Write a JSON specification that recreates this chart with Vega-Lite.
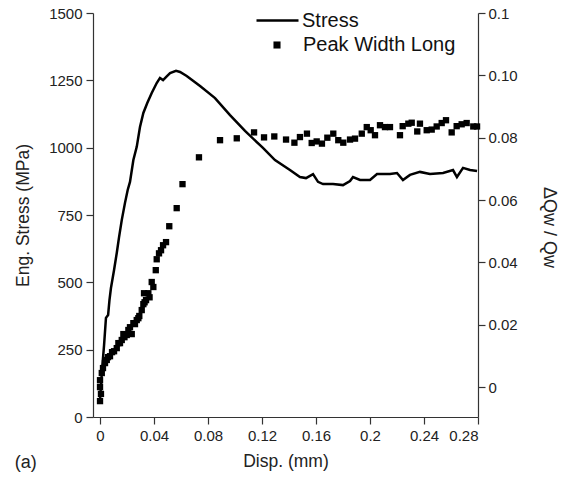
{
  "$schema": "https://vega.github.io/schema/vega-lite/v6.json",
  "width": 385,
  "height": 404,
  "autosize": {"type": "none"},
  "padding": {"left": 93, "top": 13, "right": 96, "bottom": 70},
  "background": "white",
  "title": {"text": "(a)", "orient": "bottom", "anchor": "start", "frame": "bounds", "offset": -16, "font": "Liberation Sans", "fontSize": 18, "fontWeight": "normal", "color": "#222"},
  "config": {
    "view": {"stroke": null},
    "font": "Liberation Sans",
    "axis": {"domainColor": "#333", "tickColor": "#333", "labelColor": "#222", "titleColor": "#222", "labelFont": "Liberation Sans", "titleFont": "Liberation Sans", "labelFontSize": 15, "titleFontSize": 17.5, "titleFontWeight": "normal", "grid": false, "tickSize": 7, "domainWidth": 1.2, "tickWidth": 1.2}
  },
  "datasets": {
    "stress": [
      {"disp": 0, "stress": 63, "curve": "Stress"},
      {"disp": 0.0015, "stress": 175, "curve": "Stress"},
      {"disp": 0.003, "stress": 267, "curve": "Stress"},
      {"disp": 0.0044, "stress": 368, "curve": "Stress"},
      {"disp": 0.006, "stress": 379, "curve": "Stress"},
      {"disp": 0.007, "stress": 434, "curve": "Stress"},
      {"disp": 0.0081, "stress": 479, "curve": "Stress"},
      {"disp": 0.0104, "stress": 546, "curve": "Stress"},
      {"disp": 0.0124, "stress": 609, "curve": "Stress"},
      {"disp": 0.0141, "stress": 668, "curve": "Stress"},
      {"disp": 0.0161, "stress": 731, "curve": "Stress"},
      {"disp": 0.0185, "stress": 795, "curve": "Stress"},
      {"disp": 0.0205, "stress": 843, "curve": "Stress"},
      {"disp": 0.0222, "stress": 873, "curve": "Stress"},
      {"disp": 0.0247, "stress": 954, "curve": "Stress"},
      {"disp": 0.0272, "stress": 1003, "curve": "Stress"},
      {"disp": 0.0296, "stress": 1077, "curve": "Stress"},
      {"disp": 0.0321, "stress": 1129, "curve": "Stress"},
      {"disp": 0.035, "stress": 1166, "curve": "Stress"},
      {"disp": 0.0383, "stress": 1203, "curve": "Stress"},
      {"disp": 0.042, "stress": 1240, "curve": "Stress"},
      {"disp": 0.0444, "stress": 1259, "curve": "Stress"},
      {"disp": 0.0467, "stress": 1251, "curve": "Stress"},
      {"disp": 0.0496, "stress": 1266, "curve": "Stress"},
      {"disp": 0.0519, "stress": 1277, "curve": "Stress"},
      {"disp": 0.0563, "stress": 1285, "curve": "Stress"},
      {"disp": 0.0593, "stress": 1281, "curve": "Stress"},
      {"disp": 0.0642, "stress": 1266, "curve": "Stress"},
      {"disp": 0.0741, "stress": 1229, "curve": "Stress"},
      {"disp": 0.0852, "stress": 1184, "curve": "Stress"},
      {"disp": 0.0963, "stress": 1121, "curve": "Stress"},
      {"disp": 0.1074, "stress": 1062, "curve": "Stress"},
      {"disp": 0.1207, "stress": 999, "curve": "Stress"},
      {"disp": 0.1296, "stress": 954, "curve": "Stress"},
      {"disp": 0.1407, "stress": 917, "curve": "Stress"},
      {"disp": 0.1481, "stress": 891, "curve": "Stress"},
      {"disp": 0.1526, "stress": 887, "curve": "Stress"},
      {"disp": 0.1578, "stress": 902, "curve": "Stress"},
      {"disp": 0.1615, "stress": 873, "curve": "Stress"},
      {"disp": 0.1652, "stress": 865, "curve": "Stress"},
      {"disp": 0.1726, "stress": 865, "curve": "Stress"},
      {"disp": 0.18, "stress": 861, "curve": "Stress"},
      {"disp": 0.1852, "stress": 876, "curve": "Stress"},
      {"disp": 0.1874, "stress": 891, "curve": "Stress"},
      {"disp": 0.1926, "stress": 880, "curve": "Stress"},
      {"disp": 0.2, "stress": 880, "curve": "Stress"},
      {"disp": 0.2052, "stress": 902, "curve": "Stress"},
      {"disp": 0.2148, "stress": 902, "curve": "Stress"},
      {"disp": 0.22, "stress": 906, "curve": "Stress"},
      {"disp": 0.2244, "stress": 880, "curve": "Stress"},
      {"disp": 0.2296, "stress": 899, "curve": "Stress"},
      {"disp": 0.237, "stress": 910, "curve": "Stress"},
      {"disp": 0.2444, "stress": 902, "curve": "Stress"},
      {"disp": 0.2541, "stress": 906, "curve": "Stress"},
      {"disp": 0.2615, "stress": 917, "curve": "Stress"},
      {"disp": 0.2644, "stress": 891, "curve": "Stress"},
      {"disp": 0.2689, "stress": 925, "curve": "Stress"},
      {"disp": 0.2741, "stress": 917, "curve": "Stress"},
      {"disp": 0.2793, "stress": 913, "curve": "Stress"}
    ],
    "width": [
      {"disp": 0, "width": -0.0045, "measure": "Peak Width Long"},
      {"disp": 0.0007, "width": -0.0022, "measure": "Peak Width Long"},
      {"disp": 0, "width": 0, "measure": "Peak Width Long"},
      {"disp": 0, "width": 0.0022, "measure": "Peak Width Long"},
      {"disp": 0.0013, "width": 0.0045, "measure": "Peak Width Long"},
      {"disp": 0.0022, "width": 0.0061, "measure": "Peak Width Long"},
      {"disp": 0.0037, "width": 0.0077, "measure": "Peak Width Long"},
      {"disp": 0.005, "width": 0.0087, "measure": "Peak Width Long"},
      {"disp": 0.0059, "width": 0.0096, "measure": "Peak Width Long"},
      {"disp": 0.0074, "width": 0.0099, "measure": "Peak Width Long"},
      {"disp": 0.0089, "width": 0.0112, "measure": "Peak Width Long"},
      {"disp": 0.0104, "width": 0.0115, "measure": "Peak Width Long"},
      {"disp": 0.0124, "width": 0.0125, "measure": "Peak Width Long"},
      {"disp": 0.0136, "width": 0.0141, "measure": "Peak Width Long"},
      {"disp": 0.0148, "width": 0.0141, "measure": "Peak Width Long"},
      {"disp": 0.0161, "width": 0.0151, "measure": "Peak Width Long"},
      {"disp": 0.0173, "width": 0.017, "measure": "Peak Width Long"},
      {"disp": 0.0181, "width": 0.016, "measure": "Peak Width Long"},
      {"disp": 0.0198, "width": 0.0167, "measure": "Peak Width Long"},
      {"disp": 0.021, "width": 0.0183, "measure": "Peak Width Long"},
      {"disp": 0.0222, "width": 0.0192, "measure": "Peak Width Long"},
      {"disp": 0.0235, "width": 0.017, "measure": "Peak Width Long"},
      {"disp": 0.0247, "width": 0.0205, "measure": "Peak Width Long"},
      {"disp": 0.0259, "width": 0.0202, "measure": "Peak Width Long"},
      {"disp": 0.0272, "width": 0.0215, "measure": "Peak Width Long"},
      {"disp": 0.0284, "width": 0.0221, "measure": "Peak Width Long"},
      {"disp": 0.0291, "width": 0.0228, "measure": "Peak Width Long"},
      {"disp": 0.0309, "width": 0.0247, "measure": "Peak Width Long"},
      {"disp": 0.0321, "width": 0.0266, "measure": "Peak Width Long"},
      {"disp": 0.033, "width": 0.0272, "measure": "Peak Width Long"},
      {"disp": 0.0326, "width": 0.0301, "measure": "Peak Width Long"},
      {"disp": 0.0341, "width": 0.0279, "measure": "Peak Width Long"},
      {"disp": 0.0358, "width": 0.0301, "measure": "Peak Width Long"},
      {"disp": 0.0367, "width": 0.0288, "measure": "Peak Width Long"},
      {"disp": 0.0383, "width": 0.0337, "measure": "Peak Width Long"},
      {"disp": 0.0395, "width": 0.0321, "measure": "Peak Width Long"},
      {"disp": 0.0413, "width": 0.0375, "measure": "Peak Width Long"},
      {"disp": 0.042, "width": 0.041, "measure": "Peak Width Long"},
      {"disp": 0.0437, "width": 0.0429, "measure": "Peak Width Long"},
      {"disp": 0.0452, "width": 0.0439, "measure": "Peak Width Long"},
      {"disp": 0.0467, "width": 0.0455, "measure": "Peak Width Long"},
      {"disp": 0.0489, "width": 0.0465, "measure": "Peak Width Long"},
      {"disp": 0.0513, "width": 0.0516, "measure": "Peak Width Long"},
      {"disp": 0.0568, "width": 0.0574, "measure": "Peak Width Long"},
      {"disp": 0.0611, "width": 0.0651, "measure": "Peak Width Long"},
      {"disp": 0.0733, "width": 0.0737, "measure": "Peak Width Long"},
      {"disp": 0.0889, "width": 0.0792, "measure": "Peak Width Long"},
      {"disp": 0.1013, "width": 0.0798, "measure": "Peak Width Long"},
      {"disp": 0.1141, "width": 0.0817, "measure": "Peak Width Long"},
      {"disp": 0.1215, "width": 0.0801, "measure": "Peak Width Long"},
      {"disp": 0.1291, "width": 0.0804, "measure": "Peak Width Long"},
      {"disp": 0.1378, "width": 0.0794, "measure": "Peak Width Long"},
      {"disp": 0.144, "width": 0.0784, "measure": "Peak Width Long"},
      {"disp": 0.1481, "width": 0.0802, "measure": "Peak Width Long"},
      {"disp": 0.1533, "width": 0.0813, "measure": "Peak Width Long"},
      {"disp": 0.1568, "width": 0.0783, "measure": "Peak Width Long"},
      {"disp": 0.1605, "width": 0.0788, "measure": "Peak Width Long"},
      {"disp": 0.1644, "width": 0.0781, "measure": "Peak Width Long"},
      {"disp": 0.1684, "width": 0.08, "measure": "Peak Width Long"},
      {"disp": 0.1728, "width": 0.0813, "measure": "Peak Width Long"},
      {"disp": 0.1765, "width": 0.0792, "measure": "Peak Width Long"},
      {"disp": 0.1802, "width": 0.0784, "measure": "Peak Width Long"},
      {"disp": 0.1852, "width": 0.0794, "measure": "Peak Width Long"},
      {"disp": 0.1889, "width": 0.0797, "measure": "Peak Width Long"},
      {"disp": 0.1939, "width": 0.0813, "measure": "Peak Width Long"},
      {"disp": 0.1976, "width": 0.0834, "measure": "Peak Width Long"},
      {"disp": 0.2005, "width": 0.0824, "measure": "Peak Width Long"},
      {"disp": 0.2037, "width": 0.0808, "measure": "Peak Width Long"},
      {"disp": 0.2074, "width": 0.084, "measure": "Peak Width Long"},
      {"disp": 0.2111, "width": 0.0834, "measure": "Peak Width Long"},
      {"disp": 0.2148, "width": 0.0834, "measure": "Peak Width Long"},
      {"disp": 0.2222, "width": 0.0808, "measure": "Peak Width Long"},
      {"disp": 0.2242, "width": 0.0837, "measure": "Peak Width Long"},
      {"disp": 0.2284, "width": 0.0845, "measure": "Peak Width Long"},
      {"disp": 0.2309, "width": 0.0848, "measure": "Peak Width Long"},
      {"disp": 0.235, "width": 0.082, "measure": "Peak Width Long"},
      {"disp": 0.237, "width": 0.0845, "measure": "Peak Width Long"},
      {"disp": 0.242, "width": 0.0824, "measure": "Peak Width Long"},
      {"disp": 0.2457, "width": 0.0826, "measure": "Peak Width Long"},
      {"disp": 0.2494, "width": 0.0836, "measure": "Peak Width Long"},
      {"disp": 0.2531, "width": 0.0847, "measure": "Peak Width Long"},
      {"disp": 0.2563, "width": 0.0856, "measure": "Peak Width Long"},
      {"disp": 0.2605, "width": 0.0817, "measure": "Peak Width Long"},
      {"disp": 0.2642, "width": 0.0837, "measure": "Peak Width Long"},
      {"disp": 0.2679, "width": 0.0843, "measure": "Peak Width Long"},
      {"disp": 0.2716, "width": 0.0847, "measure": "Peak Width Long"},
      {"disp": 0.2765, "width": 0.0836, "measure": "Peak Width Long"},
      {"disp": 0.2793, "width": 0.0836, "measure": "Peak Width Long"}
    ]
  },
  "layer": [
    {
      "data": {"name": "stress"},
      "mark": {"type": "line", "color": "black", "strokeWidth": 2.5, "clip": true},
      "encoding": {
        "x": {"field": "disp", "type": "quantitative", "scale": {"domain": [-0.0052, 0.28], "nice": false, "zero": false},
              "axis": {"title": "Disp. (mm)", "values": [0, 0.04, 0.08, 0.12, 0.16, 0.2, 0.24, 0.28], "labelExpr": "datum.value == 0 ? '0' : format(datum.value, '.2~f')", "labelPadding": 4, "titlePadding": 9}},
        "y": {"field": "stress", "type": "quantitative", "scale": {"domain": [0, 1500], "nice": false},
              "axis": {"title": "Eng. Stress (MPa)", "orient": "left", "format": "d", "values": [0, 250, 500, 750, 1000, 1250, 1500], "labelPadding": 4, "titlePadding": 16}},
        "color": {"field": "curve", "type": "nominal", "scale": {"range": ["black"]},
                  "legend": {"title": null, "orient": "none", "legendX": 162, "legendY": -15, "symbolType": "stroke", "symbolSize": 1764, "symbolStrokeWidth": 2.5, "symbolStrokeColor": "black", "labelFontSize": 20, "labelFont": "Liberation Sans", "labelColor": "#111", "labelOffset": 2, "padding": 0}}
      }
    },
    {
      "data": {"name": "width"},
      "mark": {"type": "point", "filled": true, "color": "black", "opacity": 1, "size": 40},
      "encoding": {
        "x": {"field": "disp", "type": "quantitative"},
        "y": {"field": "width", "type": "quantitative", "scale": {"domain": [-0.0096, 0.12], "nice": false, "zero": false},
              "axis": {"title": "ΔQw / Qw", "orient": "right", "titleFontSize": 18, "titleY": 214, "values": [0, 0.02, 0.04, 0.06, 0.08, 0.1, 0.12],
                       "labelExpr": "datum.value == 0 ? '0' : datum.value > 0.11 ? '0.1' : format(datum.value, '.2f')", "labelPadding": 3, "titlePadding": 22}},
        "shape": {"field": "measure", "type": "nominal", "scale": {"range": ["square"]},
                  "legend": {"title": null, "orient": "none", "legendX": 174, "legendY": 22, "symbolSize": 50, "symbolFillColor": "black", "symbolStrokeWidth": 0, "labelFontSize": 20, "labelFont": "Liberation Sans", "labelColor": "#111", "labelOffset": 16, "padding": 0}}
      }
    }
  ],
  "resolve": {"scale": {"y": "independent"}}
}
